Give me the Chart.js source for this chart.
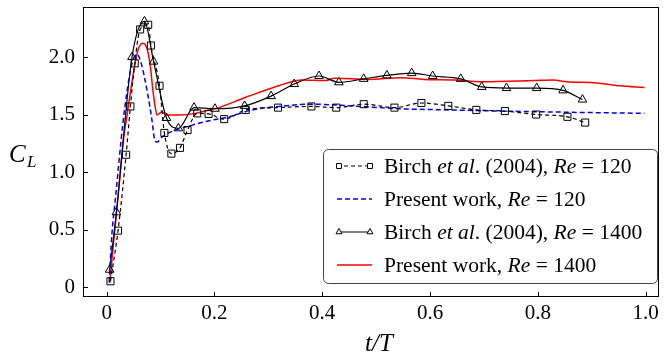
<!DOCTYPE html>
<html>
<head>
<meta charset="utf-8">
<script src="https://cdn.jsdelivr.net/npm/chart.js@4.4.0/dist/chart.umd.min.js"></script>
<style>
html, body { margin: 0; padding: 0; background: #fff; }
</style>
</head>
<body>
<canvas id="clChart" width="665" height="358"></canvas>
<script>
// Birch et al. (2004), Re = 120 (squares, dashed)
const birch120T  = [0.007, 0.021, 0.036, 0.044, 0.052, 0.062, 0.077, 0.082, 0.098, 0.107, 0.120, 0.136, 0.150, 0.168, 0.189, 0.218, 0.258, 0.318, 0.380, 0.426, 0.477, 0.534, 0.584, 0.634, 0.686, 0.739, 0.797, 0.855, 0.888];
const birch120CL = [0.05, 0.49, 1.15, 1.57, 1.945, 2.24, 2.28, 2.10, 1.75, 1.34, 1.16, 1.21, 1.365, 1.51, 1.505, 1.46, 1.54, 1.56, 1.57, 1.56, 1.59, 1.56, 1.60, 1.575, 1.54, 1.53, 1.50, 1.48, 1.43];

// Present work, Re = 120 (blue dashed)
const present120T  = [0.0045, 0.0095, 0.0166, 0.030, 0.042, 0.050, 0.057, 0.064, 0.076, 0.084, 0.0885, 0.093, 0.104, 0.128, 0.153, 0.184, 0.227, 0.27, 0.319, 0.38, 0.454, 0.546, 0.638, 0.73, 0.853, 0.998];
const present120CL = [0.04, 0.45, 0.79, 1.42, 1.83, 1.99, 2.02, 1.945, 1.68, 1.45, 1.29, 1.26, 1.31, 1.365, 1.40, 1.44, 1.48, 1.54, 1.57, 1.59, 1.575, 1.55, 1.54, 1.53, 1.52, 1.51];

// Birch et al. (2004), Re = 1400 (triangles, solid)
const birch1400T  = [0.0055, 0.018, 0.047, 0.070, 0.087, 0.111, 0.133, 0.162, 0.201, 0.256, 0.305, 0.348, 0.394, 0.431, 0.477, 0.520, 0.566, 0.605, 0.657, 0.696, 0.742, 0.798, 0.847, 0.883];
const birch1400CL = [0.15, 0.65, 2.00, 2.31, 1.96, 1.47, 1.38, 1.56, 1.55, 1.575, 1.66, 1.765, 1.835, 1.78, 1.81, 1.84, 1.86, 1.835, 1.81, 1.74, 1.73, 1.73, 1.71, 1.63];

// Present work, Re = 1400 (red solid)
const present1400T  = [0.0055, 0.021, 0.031, 0.038, 0.0485, 0.058, 0.067, 0.075, 0.081, 0.085, 0.0898, 0.0934, 0.098, 0.1026, 0.11, 0.135, 0.165, 0.19, 0.208, 0.258, 0.282, 0.319, 0.362, 0.405, 0.423, 0.485, 0.546, 0.589, 0.645, 0.694, 0.792, 0.829, 0.853, 0.909, 0.952, 0.998];
const present1400CL = [0.035, 0.785, 1.28, 1.50, 1.83, 2.06, 2.12, 2.07, 1.92, 1.74, 1.57, 1.496, 1.51, 1.525, 1.496, 1.496, 1.51, 1.54, 1.56, 1.65, 1.69, 1.75, 1.80, 1.795, 1.815, 1.805, 1.82, 1.805, 1.80, 1.785, 1.795, 1.80, 1.785, 1.775, 1.75, 1.735];

const xTicks = [0, 0.2, 0.4, 0.6, 0.8, 1.0];
const yTicks = [0, 0.5, 1.0, 1.5, 2.0];

const SERIF = "'Liberation Serif', 'Times New Roman', 'DejaVu Serif', serif";

function pts(ts, vs) {
    return ts.map((t, i) => ({ x: t, y: vs[i] }));
}

// legend rows: text runs, italic flag
const legendRows = [
    [["Birch ", 0], ["et al", 1], [". (2004), ", 0], ["Re", 1], [" = 120", 0]],
    [["Present work, ", 0], ["Re", 1], [" = 120", 0]],
    [["Birch ", 0], ["et al", 1], [". (2004), ", 0], ["Re", 1], [" = 1400", 0]],
    [["Present work, ", 0], ["Re", 1], [" = 1400", 0]]
];

// frame, inward ticks, axis labels and legend
const decorPlugin = {
    id: "decor",
    afterDatasetsDraw(chart) {
        const ctx = chart.ctx;
        const a = chart.chartArea;
        const xs = chart.scales.x, ys = chart.scales.y;
        ctx.save();
        ctx.strokeStyle = "#000";
        ctx.lineWidth = 1;
        ctx.strokeRect(a.left + 0.5, a.top + 0.5, a.right - a.left - 1, a.bottom - a.top - 1);
        ctx.beginPath();
        xTicks.forEach(v => {
            const px = Math.round(xs.getPixelForValue(v)) + 0.5;
            ctx.moveTo(px, a.bottom); ctx.lineTo(px, a.bottom - 5);
        });
        yTicks.forEach(v => {
            const py = Math.round(ys.getPixelForValue(v)) + 0.5;
            ctx.moveTo(a.left, py); ctx.lineTo(a.left + 5, py);
        });
        ctx.stroke();

        // C_L
        ctx.fillStyle = "#000";
        ctx.textBaseline = "alphabetic";
        ctx.font = "italic 25px " + SERIF;
        ctx.fillText("C", 9, 162);
        ctx.font = "italic 17px " + SERIF;
        ctx.fillText("L", 27, 167);

        // t/T
        ctx.font = "italic 25px " + SERIF;
        ctx.textAlign = "center";
        ctx.fillText("t/T", 379, 351);
        ctx.textAlign = "left";

        // legend box
        ctx.beginPath();
        ctx.roundRect(323.5, 149.5, 334, 134, 5);
        ctx.fillStyle = "#fff";
        ctx.fill();
        ctx.strokeStyle = "#444";
        ctx.stroke();

        const rowY = [166, 199, 232, 265];
        chart.data.datasets.forEach((ds, i) => {
            const y = rowY[i];
            ctx.save();
            ctx.strokeStyle = ds.borderColor;
            ctx.lineWidth = ds.borderWidth;
            ctx.setLineDash(ds.borderDash || []);
            ctx.beginPath();
            ctx.moveTo(337, y); ctx.lineTo(372, y);
            ctx.stroke();
            ctx.setLineDash([]);
            if (ds.pointRadius > 0) {
                ctx.lineWidth = 1;
                ctx.fillStyle = "#fff";
                const opts = { pointStyle: ds.pointStyle, radius: 3.5, borderWidth: 1 };
                Chart.helpers.drawPoint(ctx, opts, 339, y);
                Chart.helpers.drawPoint(ctx, opts, 370, y);
            }
            ctx.restore();
            let x = 384;
            ctx.fillStyle = "#000";
            legendRows[i].forEach(([txt, it]) => {
                ctx.font = (it ? "italic " : "") + "21.5px " + SERIF;
                ctx.fillText(txt, x, y + 7);
                x += ctx.measureText(txt).width;
            });
        });
        ctx.restore();
    }
};

new Chart(document.getElementById("clChart"), {
    type: "line",
    data: {
        datasets: [
            {
                label: "Birch et al. (2004), Re = 120",
                data: pts(birch120T, birch120CL),
                borderColor: "#000",
                borderWidth: 1.2,
                borderDash: [4, 3],
                pointStyle: "rect",
                pointRadius: 5,
                pointBorderWidth: 1,
                pointBackgroundColor: "rgba(0,0,0,0)",
                pointBorderColor: "#000",
                cubicInterpolationMode: "monotone"
            },
            {
                label: "Present work, Re = 120",
                data: pts(present120T, present120CL),
                borderColor: "#0000ee",
                borderWidth: 1.5,
                borderDash: [5, 3],
                pointRadius: 0,
                cubicInterpolationMode: "monotone"
            },
            {
                label: "Birch et al. (2004), Re = 1400",
                data: pts(birch1400T, birch1400CL),
                borderColor: "#000",
                borderWidth: 1.2,
                pointStyle: "triangle",
                pointRadius: 5,
                pointBorderWidth: 1,
                pointBackgroundColor: "rgba(0,0,0,0)",
                pointBorderColor: "#000",
                cubicInterpolationMode: "monotone"
            },
            {
                label: "Present work, Re = 1400",
                data: pts(present1400T, present1400CL),
                borderColor: "#ff0000",
                borderWidth: 1.5,
                pointRadius: 0,
                cubicInterpolationMode: "monotone"
            }
        ]
    },
    options: {
        responsive: false,
        animation: false,
        devicePixelRatio: 1,
        layout: { padding: { left: 0, right: 2, top: 7, bottom: 0 } },
        plugins: { legend: { display: false }, tooltip: { enabled: false } },
        scales: {
            x: {
                type: "linear",
                min: -0.044,
                max: 1.025,
                grid: { display: false, drawTicks: false },
                border: { display: false },
                afterBuildTicks: s => { s.ticks = xTicks.map(v => ({ value: v })); },
                afterFit: s => { s.height = 61; s.paddingLeft = 0; s.paddingRight = 0; },
                ticks: {
                    padding: 4,
                    color: "#000",
                    font: { family: SERIF, size: 21 },
                    maxRotation: 0,
                    callback: v => v === 0 ? "0" : v.toFixed(1)
                }
            },
            y: {
                type: "linear",
                min: -0.087,
                max: 2.435,
                grid: { display: false, drawTicks: false },
                border: { display: false },
                afterBuildTicks: s => { s.ticks = yTicks.map(v => ({ value: v })); },
                afterFit: s => { s.width = 83; s.paddingTop = 0; s.paddingBottom = 0; },
                ticks: {
                    padding: 8,
                    color: "#000",
                    font: { family: SERIF, size: 21 },
                    callback: v => v === 0 ? "0" : v.toFixed(1)
                }
            }
        }
    },
    plugins: [decorPlugin]
});
</script>
</body>
</html>
